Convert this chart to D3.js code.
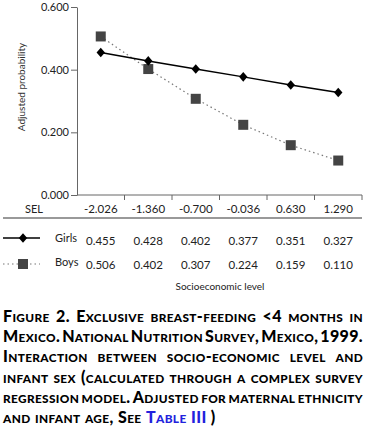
<!DOCTYPE html>
<html><head><meta charset="utf-8">
<script src="https://cdn.jsdelivr.net/npm/d3@7/dist/d3.min.js"></script>
<style>
html,body{margin:0;padding:0;background:#fff;}
svg{display:block;}
</style></head>
<body>
<script>
const selLevels = ["-2.026","-1.360","-0.700","-0.036","0.630","1.290"];
const girls = [0.455,0.428,0.402,0.377,0.351,0.327];
const boys = [0.506,0.402,0.307,0.224,0.159,0.110];
const yTicks = [0, 0.2, 0.4, 0.6];
const seriesNames = ["Girls","Boys"];
const captionLines = [
  "Figure 2. Exclusive breast-feeding <4 months in",
  "Mexico. National Nutrition Survey, Mexico, 1999.",
  "Interaction between socio-economic level and",
  "infant sex (calculated through a complex survey",
  "regression model. Adjusted for maternal ethnicity",
  "and infant age, See Table III)"
];

const W = 370, H = 429;
const svg = d3.select("body").append("svg").attr("width", W).attr("height", H);
const font = "Lato, 'Open Sans', sans-serif";

const x = d3.scaleBand().domain(selLevels).range([77, 362]).padding(0);
const y = d3.scaleLinear().domain([0, 0.6]).range([195, 7]);

// Y axis
const yAxis = svg.append("g").attr("transform", "translate(77,0)")
  .call(d3.axisLeft(y).tickValues(yTicks).tickFormat(d3.format(".3f")).tickSize(6).tickSizeOuter(0));
yAxis.select(".domain").attr("stroke", "#666");
yAxis.selectAll(".tick line").attr("stroke", "#666");
yAxis.selectAll(".tick text").attr("font-family", font).attr("font-size", 11).attr("fill", "#222").attr("x", -8);

// X axis line and band-edge ticks
svg.append("line").attr("x1", 77).attr("x2", 362).attr("y1", y(0)).attr("y2", y(0)).attr("stroke", "#666");
const edges = selLevels.map(d => x(d) + x.bandwidth());
svg.selectAll(".xt").data(edges).join("line")
  .attr("x1", d => d).attr("x2", d => d).attr("y1", y(0)).attr("y2", y(0) + 5).attr("stroke", "#666");

// Y label
svg.append("text").attr("transform", "translate(25,87) rotate(-90)")
  .attr("text-anchor", "middle").attr("font-family", font).attr("font-size", 10).attr("fill", "#333")
  .text("Adjusted probability");

const cx = d => x(d) + x.bandwidth() / 2;
const diamond = "M0,-4.8L4.2,0L0,4.8L-4.2,0Z";

const boysData = selLevels.map((s, i) => ({s, v: boys[i]}));
const girlsData = selLevels.map((s, i) => ({s, v: girls[i]}));
const line = d3.line().x(d => cx(d.s)).y(d => y(d.v));
svg.append("path").datum(boysData).attr("d", line).attr("fill", "none")
  .attr("stroke", "#777").attr("stroke-width", 1.2).attr("stroke-dasharray", "1.5,3");
svg.append("path").datum(girlsData).attr("d", line).attr("fill", "none")
  .attr("stroke", "#000").attr("stroke-width", 1.5);
svg.selectAll(".bsq").data(boysData).join("rect")
  .attr("x", d => cx(d.s) - 5).attr("y", d => y(d.v) - 5).attr("width", 10).attr("height", 10)
  .attr("fill", "#444");
svg.selectAll(".gdm").data(girlsData).join("path")
  .attr("transform", d => `translate(${cx(d.s)},${y(d.v)})`).attr("d", diamond).attr("fill", "#000");

// Table
svg.append("text").attr("x", 25).attr("y", 213).attr("font-family", font).attr("font-size", 11)
  .attr("fill", "#222").text("SEL");
svg.selectAll(".selt").data(selLevels).join("text")
  .attr("x", d => cx(d)).attr("y", 213).attr("text-anchor", "middle")
  .attr("font-family", font).attr("font-size", 11.5).attr("fill", "#222").text(d => d);
svg.append("line").attr("x1", 3).attr("x2", 362).attr("y1", 218).attr("y2", 218)
  .attr("stroke", "#999").attr("stroke-width", 2);

const rows = [{name: seriesNames[0], vals: girls, ly: 238, ty: 245},
              {name: seriesNames[1], vals: boys, ly: 264, ty: 269}];
rows.forEach((r, ri) => {
  svg.append("line").attr("x1", 3).attr("x2", 40).attr("y1", r.ly).attr("y2", r.ly)
    .attr("stroke", ri === 0 ? "#000" : "#777").attr("stroke-width", ri === 0 ? 1.5 : 1.2)
    .attr("stroke-dasharray", ri === 0 ? null : "1.5,3");
  if (ri === 0) svg.append("path").attr("transform", `translate(23,${r.ly})`).attr("d", diamond).attr("fill", "#000");
  else svg.append("rect").attr("x", 18).attr("y", r.ly - 5).attr("width", 10).attr("height", 10).attr("fill", "#444");
  svg.append("text").attr("x", 55).attr("y", r.ty - 3).attr("font-family", font).attr("font-size", 11)
    .attr("fill", "#222").text(r.name);
  svg.selectAll(".rv" + ri).data(r.vals).join("text")
    .attr("x", (d, i) => cx(selLevels[i])).attr("y", r.ty).attr("text-anchor", "middle")
    .attr("font-family", font).attr("font-size", 11.5).attr("fill", "#222").text(d => d3.format(".3f")(d));
});
svg.append("text").attr("x", 220).attr("y", 290).attr("text-anchor", "middle")
  .attr("font-family", font).attr("font-size", 10).attr("fill", "#222").text("Socioeconomic level");

// Caption (small caps, justified)
const base = 16, sc = 0.74;
function addSC(t, str, color) {
  const runs = [];
  for (const ch of str) {
    const small = /[a-z]/.test(ch);
    if (runs.length && runs[runs.length - 1].small === small) runs[runs.length - 1].s += ch;
    else runs.push({small, s: ch});
  }
  runs.forEach(r => t.append("tspan").attr("font-size", r.small ? base * sc : base)
    .attr("fill", color).text(r.small ? r.s.toUpperCase() : r.s));
}
const left = 3, right = 363;
captionLines.forEach((ln, li) => {
  const by = 322 + li * 20.2;
  const words = ln.split(" ");
  const nodes = words.map(w => {
    const t = svg.append("text").attr("y", by).attr("font-family", font).attr("font-weight", 900)
      .attr("letter-spacing", 0.35).attr("fill", "#000");
    if (w === "Table") addSC(t, w, "#2222dd");
    else if (w === "III)") { addSC(t, "III", "#2222dd"); addSC(t, " )", "#000"); }
    else addSC(t, w, "#000");
    return t;
  });
  const widths = nodes.map(n => n.node().getComputedTextLength());
  const total = d3.sum(widths);
  const last = li === captionLines.length - 1;
  const gap = last ? 4.5 : (right - left - total) / (words.length - 1);
  let xx = left;
  nodes.forEach((n, i) => { n.attr("x", xx); xx += widths[i] + gap; });
});
</script>
</body></html>
